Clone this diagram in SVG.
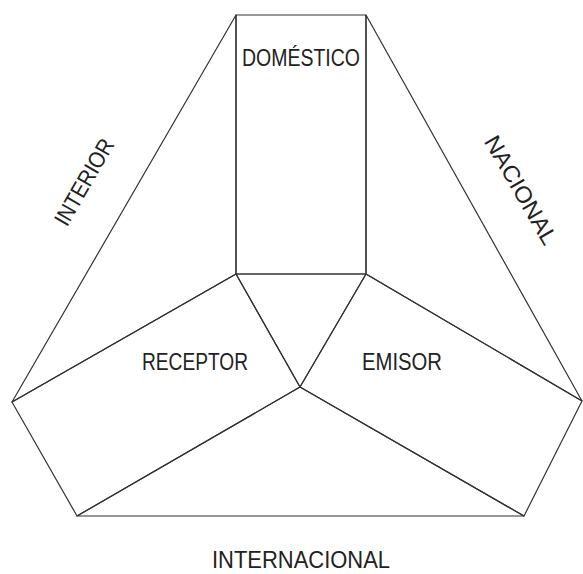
<svg xmlns="http://www.w3.org/2000/svg" width="583" height="574" viewBox="0 0 583 574">
<style>
.s{fill:none;stroke:#333;stroke-width:1.2;stroke-linejoin:round}
.t{font-family:"Liberation Sans","DejaVu Sans",sans-serif;font-size:23px;fill:#222;text-anchor:middle}
</style>
<rect width="583" height="574" fill="#fff"/>
<g id="connectors">
<polygon class="s" points="236,15 236,274 12,402"/>
<polygon class="s" points="366,15 582,401 366,274"/>
<polygon class="s" points="236,274 366,274 300,387"/>
<polygon class="s" points="300,387 77,516 524,516"/>
</g>
<g id="domestico">
<rect class="s" x="236" y="15" width="130" height="259"/>
<text class="t" x="301" y="66" textLength="118" lengthAdjust="spacingAndGlyphs">DOMÉSTICO</text>
</g>
<g id="receptor">
<polygon class="s" points="236,274 12,402 77,516 300,387"/>
<text class="t" x="195" y="370" textLength="106" lengthAdjust="spacingAndGlyphs">RECEPTOR</text>
</g>
<g id="emisor">
<polygon class="s" points="366,274 300,387 524,516 582,401"/>
<text class="t" x="402" y="370" textLength="80" lengthAdjust="spacingAndGlyphs">EMISOR</text>
</g>
<g id="interior">
<text class="t" transform="translate(84,182) rotate(-60)" x="0" y="8" textLength="96" lengthAdjust="spacingAndGlyphs">INTERIOR</text>
</g>
<g id="nacional">
<text class="t" transform="translate(521,190) rotate(60)" x="0" y="8" textLength="122" lengthAdjust="spacingAndGlyphs">NACIONAL</text>
</g>
<g id="internacional">
<text class="t" x="301" y="568" textLength="178" lengthAdjust="spacingAndGlyphs">INTERNACIONAL</text>
</g>
</svg>
